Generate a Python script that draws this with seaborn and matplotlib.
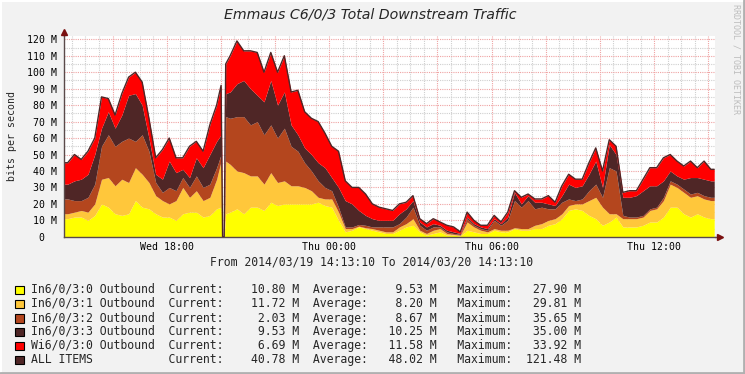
import numpy as np
import pandas as pd
import seaborn as sns
import matplotlib
matplotlib.use("Agg")
import matplotlib.pyplot as plt
from matplotlib.patches import Rectangle
from matplotlib.lines import Line2D

# ---------------- data ----------------
title = "Emmaus C6/0/3 Total Downstream Traffic"
ylabel = "bits per second"
period_text = "From 2014/03/19 14:13:10 To 2014/03/20 14:13:10"
watermark = "RRDTOOL / TOBI OETIKER"

# sample times in hours after 2014/03/19 14:13:10 (15-min samples, a short outage near 20:03)
t_points = ([i / 4 + 0.125 for i in range(23)] + [5.79, 5.845, 5.905, 5.96]
            + [i / 4 + 0.125 for i in range(24, 96)])

in0 = [11, 12, 12, 10, 13, 20, 18, 14, 13, 14, 22, 18, 17, 14, 12, 12, 10, 14, 15, 15, 12, 13, 17,
       18, 0, 0,
       14, 15, 17, 14, 18, 18, 16, 21, 19, 20,
       20, 20, 20, 20, 21, 19, 18, 10, 3, 4,
       6, 5, 4, 3, 2, 2, 4, 6, 7, 3,
       1, 2, 3, 1, 1, 0.5, 4, 3, 2, 2,
       4, 3, 3, 5, 4, 4, 5, 5, 7, 8,
       11, 16, 17, 16, 13, 11, 7, 9, 12, 6,
       6, 6, 7, 9, 9, 12, 18, 18, 14, 12,
       14, 12, 11]
in1 = [3, 3, 4, 5, 7, 15, 18, 17, 22, 19, 20, 20, 16, 11, 10, 8, 12, 16, 9, 13, 10, 11, 18,
       28, 0, 0,
       32, 29, 23, 25, 19, 19, 16, 18, 14, 14,
       11, 11, 10, 8, 3, 4, 5, 5, 2, 1,
       0.5, 0.5, 1, 1, 1, 1, 2, 2, 4, 1,
       1, 2, 2, 1, 0.5, 0.5, 5, 3, 2, 1,
       1, 1, 1, 0.5, 1, 1, 2, 3, 3, 3,
       3, 3, 3, 4, 9, 13, 11, 5, 2, 5,
       5, 5, 5, 7, 8, 10, 14, 12, 13, 12,
       11, 11, 11]
in2 = [9, 7, 6, 9, 12, 20, 26, 24, 23, 27, 16, 24, 19, 8, 5, 10, 6, 6, 6, 9, 8, 8, 7,
       4, 0, 0,
       27, 28, 33, 34, 31, 33, 30, 29, 27, 32,
       24, 21, 15, 12, 10, 7, 5, 3, 1, 1,
       1, 1.5, 1, 2, 3, 3, 2, 4, 7, 3,
       2, 2, 1, 1, 0.5, 0.5, 2, 1, 1, 1,
       5, 3, 6, 16.5, 13, 17, 10, 10, 7, 6,
       7, 4, 2, 3, 6, 8, 6, 28, 26, 2,
       1, 1, 1, 1, 1, 2, 2, 2, 2, 2,
       2, 2, 2]
in3 = [9, 12, 13, 14, 18, 11, 14, 11, 16, 26, 29, 18, 8, 5, 8, 16, 11, 5, 6, 11, 12, 18, 16,
       12, 0, 0,
       14, 16, 20, 22, 22, 16, 20, 27, 20, 22,
       13, 10, 9, 10, 11, 12, 8, 12, 16, 14,
       8.5, 6, 5, 4, 4, 4, 6, 5, 4, 2,
       2, 2, 1, 1, 1, 0.5, 1, 1, 1, 1,
       1, 1, 2, 5, 2, 3, 4, 3, 3, 2,
       4, 9, 8, 8, 10, 14, 6, 14, 10, 11,
       12, 13, 15, 14, 13, 10, 6, 5, 6, 10,
       9, 10, 10]
wi0 = [13, 16, 12, 14, 10, 19, 8, 8, 13, 11, 13, 14, 12, 10, 18, 14, 9, 7, 19, 10, 10, 18, 22,
       30, 0, 0,
       18, 22, 26, 18, 23, 26, 18, 17, 20, 22,
       20, 27, 22, 22, 25, 21, 19, 22, 12, 10,
       14, 13, 9, 8, 7, 6, 6, 4, 3, 2,
       2, 3, 2, 3, 3, 1, 3, 2, 1, 2,
       2, 1, 3, 1, 4, 1, 2, 2, 5, 2,
       6, 6, 5, 4, 7, 8, 10, 3, 5, 3,
       4, 3, 7, 11, 11, 14, 10, 9, 8, 10,
       6, 11, 7]

series_names = ["In6/0/3:0 Outbound", "In6/0/3:1 Outbound", "In6/0/3:2 Outbound",
                "In6/0/3:3 Outbound", "Wi6/0/3:0 Outbound", "ALL ITEMS"]
current = [10.80, 11.72, 2.03, 9.53, 6.69, 40.78]
average = [9.53, 8.20, 8.67, 10.25, 11.58, 48.02]
maximum = [27.90, 29.81, 35.65, 35.00, 33.92, 121.48]

xtick_labels = ["", "Wed 18:00", "", "", "Thu 00:00", "", "", "Thu 06:00", "", "", "Thu 12:00", ""]
ytick_values = [0, 10, 20, 30, 40, 50, 60, 70, 80, 90, 100, 110, 120]

# ---------------- style ----------------
colors = ["#FFFF00", "#FFC73B", "#B4461E", "#4F2626", "#FF0000", "#4F2626"]
sns.set_style("white")
plt.rcParams["font.family"] = ["DejaVu Sans Mono"]
MONO = "DejaVu Sans Mono"
W, H = 745, 374
bg = "#F2F2F2"
axis_col = "#5A4A4A"

fig = plt.figure(figsize=(W / 100, H / 100), dpi=100, facecolor=bg)
x0, x1, ytop, ybot = 64.3, 715.0, 36.0, 236.8
ax = fig.add_axes([x0 / W, 1 - ybot / H, (x1 - x0) / W, (ybot - ytop) / H])
ax.set_facecolor("white")
px_per_h = 27.08
ax.set_xlim(0, (x1 - x0) / px_per_h)
ax.set_ylim(0, 122)

# pad the first / last sample out to the graph edges (0 h and 24 h)
tx = np.concatenate([[0.0], np.array(t_points, dtype=float), [24.0]])
data = [np.array(s, dtype=float) for s in (in0, in1, in2, in3, wi0)]


def pad(a):
    return np.concatenate([[a[0]], a, [a[-1]]])


base = np.zeros(len(tx))
for vals, c in zip(data, colors[:5]):
    top = base + pad(vals)
    ax.fill_between(tx, base, top, color=c, lw=0, zorder=2)
    base = top
df = pd.DataFrame({"h": tx, "total": base})
sns.lineplot(data=df, x="h", y="total", color=colors[5], lw=1.0, ax=ax, zorder=3,
             legend=False, estimator=None)

# grid
first_major = (16 * 60 - (14 * 60 + 13 + 10 / 60)) / 60.0
major_x = [first_major + 2 * k for k in range(12)]
minor_x = [first_major - 1.5 + 0.5 * k for k in range(48) if first_major - 1.5 + 0.5 * k < 24]
ax.set_xticks(major_x)
ax.set_xticklabels(xtick_labels)
ax.set_xticks(minor_x, minor=True)
ax.set_yticks(ytick_values)
ax.set_yticklabels([f"{v:3d} M" if v else "0  " for v in ytick_values])
ax.set_yticks([v + 5 for v in ytick_values[:-1]], minor=True)
ax.set_axisbelow(True)
ax.grid(True, which="minor", color="#CFCFCF", linestyle=(0, (1, 1)), lw=0.8)
ax.grid(True, which="major", color="#EFA3A3", linestyle=(0, (1, 1)), lw=0.8)
ax.set_xlabel("")
ax.set_ylabel("")

for s in ("top", "right"):
    ax.spines[s].set_visible(False)
for s in ("left", "bottom"):
    ax.spines[s].set_color(axis_col)
    ax.spines[s].set_linewidth(1.0)
    ax.spines[s].set_zorder(4)
ax.tick_params(axis="both", which="major", length=2, width=0.8, color="#888888",
               labelsize=7.1, labelcolor="black")
ax.tick_params(axis="x", which="major", pad=1.5)
ax.tick_params(axis="y", which="major", pad=3.5)
ax.tick_params(axis="both", which="minor", length=1.2, width=0.6, color="#AAAAAA")
for lab in ax.get_xticklabels() + ax.get_yticklabels():
    lab.set_family(MONO)

# arrows
xmax = ax.get_xlim()[1]
ax.plot([xmax, xmax + 0.17], [0, 0], color=axis_col, lw=1.0, clip_on=False, zorder=4)
ax.plot([xmax + 0.2], [0], marker=">", ms=4, color="#7A1010", clip_on=False, zorder=5)
ax.plot([0, 0], [122, 124], color=axis_col, lw=1.0, clip_on=False, zorder=4)
ax.plot([0], [124.6], marker="^", ms=4, color="#7A1010", clip_on=False, zorder=5)


def fx(x):
    return x / W


def fy(y):
    return 1 - y / H


fig.text(fx(370), fy(14), title, ha="center", va="center", fontsize=10.2,
         style="italic", family="DejaVu Sans")
fig.text(fx(11.7), fy(136), ylabel, rotation=90, ha="center", va="center",
         fontsize=7.1, family=MONO)
fig.text(fx(372), fy(262.3), period_text, ha="center", va="center", fontsize=8.3, family=MONO)
fig.text(fx(736), fy(59), watermark, rotation=-90, ha="center", va="center",
         fontsize=6, family=MONO, color="#BDBDBD")

row_y = [290, 304, 318.3, 332, 346, 360]
for name, c, cur, avg, mx, ry in zip(series_names, colors, current, average, maximum, row_y):
    line = f"{name:<20}Current:{cur:9.2f} M  Average:{avg:8.2f} M   Maximum:{mx:8.2f} M"
    fig.text(fx(30.7), fy(ry), line, ha="left", va="center", fontsize=8.3, family=MONO)
    fig.patches.append(Rectangle((fx(15.3), fy(ry + 4.2)), 8.6 / W, 8.4 / H,
                                 transform=fig.transFigure, facecolor=c,
                                 edgecolor="black", lw=0.8))

# 3D frame
fig.lines.append(Line2D([0, 1], [fy(0.8), fy(0.8)], transform=fig.transFigure, color="white", lw=1.5))
fig.lines.append(Line2D([fx(0.8), fx(0.8)], [0, 1], transform=fig.transFigure, color="white", lw=1.5))
fig.lines.append(Line2D([0, 1], [fy(373), fy(373)], transform=fig.transFigure, color="#B0B0B0", lw=2))
fig.lines.append(Line2D([fx(744), fx(744)], [0, 1], transform=fig.transFigure, color="#B0B0B0", lw=2))

fig.savefig("out.png", dpi=100, facecolor=bg)
